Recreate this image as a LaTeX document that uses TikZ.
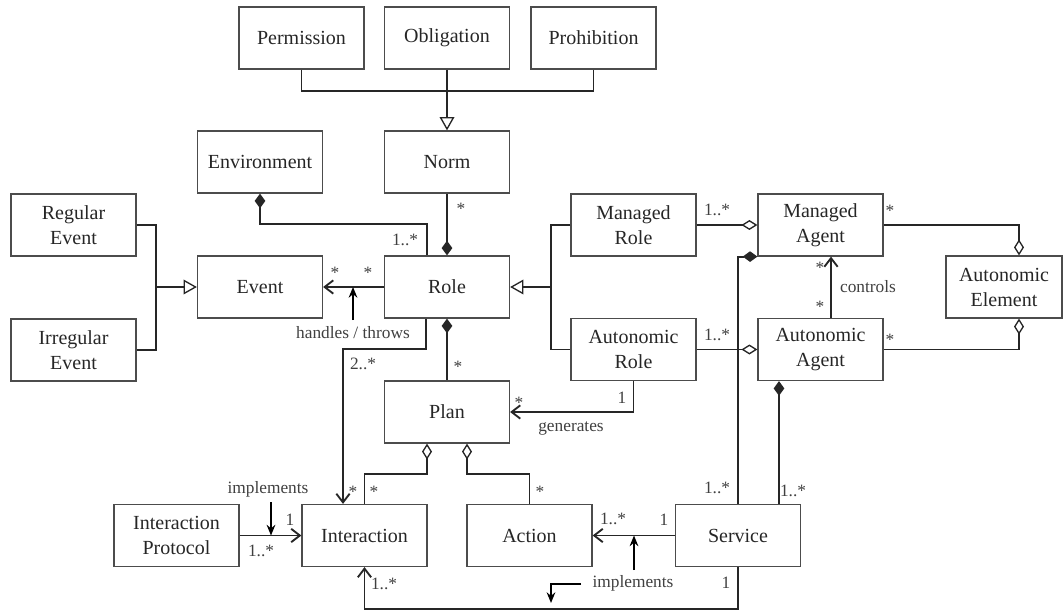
\documentclass[tikz,border=0pt]{standalone}
\usepackage{fontspec}
\setmainfont{Liberation Serif}
\usetikzlibrary{arrows.meta}

\begin{document}
\begin{tikzpicture}[x=0.75pt,y=0.75pt,yscale=-1,xscale=1,
  cls/.style={draw=black!70,line width=0.9pt,minimum width=93.75pt,minimum height=46.5pt,align=center,inner sep=1pt,text=black!85,font=\fontsize{15}{18.75}\selectfont},
  conn/.style={line width=1.4pt,black!85},
  lbl/.style={inner sep=0pt,text=black!75,font=\fontsize{13}{15}\selectfont},
  hint/.style={line width=1.3pt,black,-{Stealth[length=8pt,width=6.5pt]}},
  gtri/.tip={Triangle[open,length=10pt,width=11pt,line width=1pt]},
  odia/.tip={Diamond[open,length=12pt,width=7.5pt,line width=1pt]},
  fdia/.tip={Diamond[length=11pt,width=8pt]},
  barb/.tip={Straight Barb[length=6.5pt,width=10pt]}]
		%uncomment if require: \path (0,613); %diagram is 1064 wide, 613 high
		\useasboundingbox (0,0) rectangle (1064,613);
		
		\node[cls] (perm) at (301.5,38) {Permission};
		\node[cls] (oblig) at (447,38) {Obligation};
		\node[cls] (prohib) at (593.5,38) {Prohibition};
		\node[cls] (norm) at (447,162) {Norm};
		\node[cls] (env) at (260,162) {Environment};
		\node[cls] (regev) at (73.5,225) {Regular\\Event};
		\node[cls] (event) at (260,287) {Event};
		\node[cls] (role) at (447,287) {Role};
		\node[cls] (irrev) at (73.5,350) {Irregular\\Event};
		\node[cls] (mrole) at (633.5,225) {Managed\\Role};
		\node[cls] (magent) at (820.5,225) {Managed\\Agent};
		\node[cls,minimum width=87pt] (aelem) at (1004,287) {Autonomic\\Element};
		\node[cls] (arole) at (633.5,349.5) {Autonomic\\Role};
		\node[cls] (aagent) at (820.5,349.5) {Autonomic\\Agent};
		\node[cls] (plan) at (447,412) {Plan};
		\node[cls] (iprot) at (176.5,535.5) {Interaction\\Protocol};
		\node[cls] (inter) at (364.5,535.5) {Interaction};
		\node[cls] (action) at (529.5,535.5) {Action};
		\node[cls] (service) at (738,535.5) {Service};
		
		% bends
		\coordinate (gbar) at (447,91);
		\coordinate (evbar) at (156,287);
		\coordinate (rbar) at (551,287);
		\coordinate (er) at (427,224);
		\coordinate (ri) at (426,349);
		\coordinate (rx) at (343,349);
		\coordinate (pi) at (427,474);
		\coordinate (pa) at (467,474);
		\coordinate (sb) at (364.5,609);
		\coordinate (sa) at (779,0);
		\coordinate (ct) at (831,0);
		\coordinate (ae) at (1019,0);
		\coordinate (h1) at (353,320);
		\coordinate (i1) at (271,502);
		\coordinate (i2) at (634,570);
		\coordinate (ea) at (581,584);
		\coordinate (eb) at (551,603);
		
		\draw[conn] (perm.south) |- (gbar) -| (prohib.south);
		\draw[conn,-gtri] (oblig.south) -- (norm.north);
		\draw[conn] (regev.east) -| (evbar) |- (irrev.east);
		\draw[conn,-gtri] (evbar) -- (event.west);
		\draw[conn] (mrole.west) -| (rbar) |- (arole.west);
		\draw[conn,-gtri] (rbar) -- (role.east);
		
		\draw[conn,fdia-] (env.south) |- (er) -- (er |- role.north);
		\draw[conn,-fdia] (norm.south) -- (role.north);
		\draw[conn,-barb] (role.west) -- (event.east);
		\draw[conn,fdia-] (role.south) -- (plan.north);
		\draw[conn,-barb] (ri |- role.south) |- (rx) -- (rx |- inter.north);
		\draw[conn,odia-] (pi |- plan.south) -- (pi) -| (inter.north);
		\draw[conn,odia-] (pa |- plan.south) -- (pa) -| (action.north);
		\draw[conn,-barb] (iprot.east) -- (inter.west);
		\draw[conn,-barb] (service.west) -- (action.east);
		\draw[conn,-barb] (service.south) |- (sb) -- (inter.south);
		\draw[conn,-barb] (arole.south) |- (plan.east);
		\draw[conn,-odia] (mrole.east) -- (magent.west);
		\draw[conn,-odia] (arole.east) -- (aagent.west);
		\draw[conn,-odia] (magent.east) -| (ae |- aelem.north);
		\draw[conn,-odia] (aagent.east) -| (ae |- aelem.south);
		\draw[conn,-barb] (ct |- aagent.north) -- (ct |- magent.south);
		\draw[conn,-fdia] (service.north) |- (magent.south west);
		\draw[conn,fdia-] (sa |- aagent.south) -- (sa |- service.north);
		
		\draw[hint] (h1) -- (h1 |- role.west);
		\draw[hint] (i1) -- (i1 |- iprot.east);
		\draw[hint] (i2) -- (i2 |- service.west);
		\draw[hint] (ea) -| (eb);
		
		\node[lbl] (lenv) at (405,240) {1..*};
		\node[lbl] (lnorm) at (461,209) {*};
		\node[lbl] (lev1) at (335,273) {*};
		\node[lbl] (lev2) at (368,273) {*};
		\node[lbl] (lhandle) at (353,333) {handles / throws};
		\node[lbl] (lplan) at (458,367) {*};
		\node[lbl] (lint2) at (363,364) {2..*};
		\node[lbl] (lint3) at (353,492) {*};
		\node[lbl] (lint4) at (374,492) {*};
		\node[lbl] (limpl1) at (268,489) {implements};
		\node[lbl] (lip1) at (290,520) {1};
		\node[lbl] (lip2) at (261,551) {1..*};
		\node[lbl] (lint5) at (384,584) {1..*};
		\node[lbl] (lact) at (540,492) {*};
		\node[lbl] (lact2) at (613,519) {1..*};
		\node[lbl] (lsrv1) at (664,520) {1};
		\node[lbl] (limpl2) at (633,583) {implements};
		\node[lbl] (lsrv2) at (726,583) {1};
		\node[lbl] (lsrv3) at (717,488) {1..*};
		\node[lbl] (lsrv4) at (793,491) {1..*};
		\node[lbl] (lgen1) at (519,403) {*};
		\node[lbl] (lgen2) at (622,398) {1};
		\node[lbl] (lgen) at (571,428) {generates};
		\node[lbl] (lmr) at (717,210) {1..*};
		\node[lbl] (lar) at (717,335) {1..*};
		\node[lbl] (lma) at (890,211) {*};
		\node[lbl] (laa) at (890,340) {*};
		\node[lbl] (lc1) at (820,268) {*};
		\node[lbl] (lc2) at (820,307) {*};
		\node[lbl] (lctrl) at (868,287) {controls};
		
		\end{tikzpicture}
\end{document}
